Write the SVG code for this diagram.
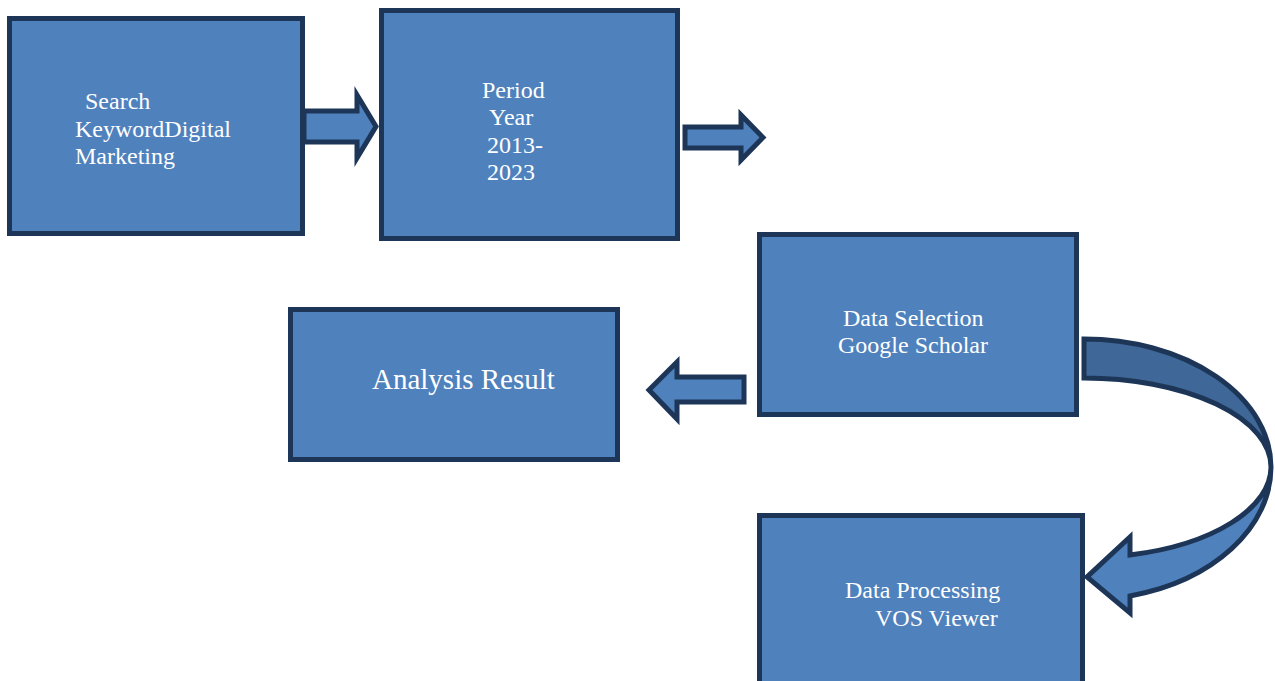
<svg xmlns="http://www.w3.org/2000/svg" width="1275" height="681" viewBox="0 0 1275 681">
<style>
.box{fill:#4F81BD;stroke:#1D3658;stroke-width:5}
.arr{fill:#4F81BD;stroke:#1D3658;stroke-width:5;stroke-linejoin:miter}
.shade{fill:#3F6797;stroke:#1D3658;stroke-width:5}
.t{font-family:"Liberation Serif","Times New Roman",serif;font-size:24px;fill:#FFFFFF}
.tl{font-family:"Liberation Serif","Times New Roman",serif;font-size:29px;fill:#FFFFFF}
</style>
<rect width="1275" height="681" fill="#FFFFFF"/>
<g id="connectors">
<path class="arr" d="M304,111 L357,111 L357,95 L376,126.5 L357,158 L357,142 L304,142 Z"/>
<path class="arr" d="M685,127 L741,127 L741,115 L763,137.5 L741,160 L741,148 L685,148 Z"/>
<path class="arr" d="M649,390 L677,362 L677,377 L744,377 L744,402 L677,402 L677,419 Z"/>
<path class="shade" d="M1084,339 A187,128 0 0 1 1271,467 A187,89 0 0 0 1084,378 Z"/>
<path class="arr" d="M1271,467 A187,133 0 0 1 1130,596 L1130,613 L1087,577 L1130,537 L1130,555 A187,91 0 0 0 1271,467 Z"/>
</g>
<g id="node-search">
<rect class="box" x="9.5" y="18.5" width="293" height="215"/>
<text class="t" x="85" y="109">Search</text>
<text class="t" x="75" y="137">KeywordDigital</text>
<text class="t" x="75" y="164">Marketing</text>
</g>
<g id="node-period">
<rect class="box" x="381.5" y="10.5" width="296" height="228"/>
<text class="t" x="482" y="98">Period</text>
<text class="t" x="489" y="125">Year</text>
<text class="t" x="487" y="153">2013-</text>
<text class="t" x="487" y="180">2023</text>
</g>
<g id="node-selection">
<rect class="box" x="759.5" y="234.5" width="317" height="180"/>
<text class="t" x="843" y="326">Data Selection</text>
<text class="t" x="838" y="353">Google Scholar</text>
</g>
<g id="node-analysis">
<rect class="box" x="290.5" y="309.5" width="327" height="150"/>
<text class="tl" x="372" y="389">Analysis Result</text>
</g>
<g id="node-processing">
<rect class="box" x="759.5" y="515.5" width="323" height="200"/>
<text class="t" x="845" y="598">Data Processing</text>
<text class="t" x="875" y="626">VOS Viewer</text>
</g>
</svg>
